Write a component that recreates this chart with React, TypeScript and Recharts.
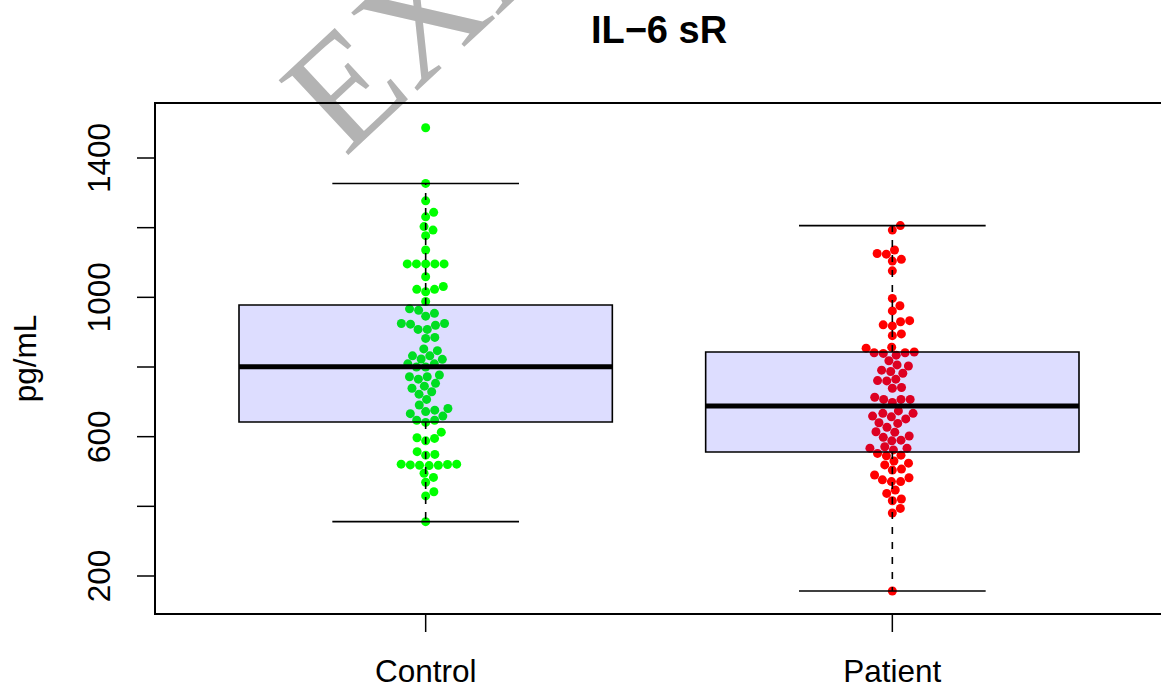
import { ComposedChart, XAxis, YAxis, Scatter, ReferenceArea, ReferenceLine } from 'recharts';

// ============================================================================
// Data
// ============================================================================

const groups = ['Control', 'Patient'];

const controlValues = [
  1487, 1327, 1277, 1244, 1231, 1203, 1193, 1177, 1136,
  1096, 1096, 1096, 1096, 1096,
  1059, 1031, 1023, 1023, 1016,
  988, 967, 963, 954, 946,
  925, 925, 923, 920, 908, 908,
  885, 882, 852, 847, 832, 832, 823, 822,
  809, 809, 800, 800,
  777, 772, 772, 765, 753, 745, 739, 729, 722,
  707, 691, 681, 676, 672, 666, 659, 647, 647, 641,
  613, 597, 595, 588, 557, 549, 547,
  521, 521, 520, 519, 518, 518, 517,
  495, 483, 469, 442, 430, 356,
];

const patientValues = [
  1206, 1193, 1136, 1126, 1124, 1109, 1104, 1076,
  997, 976, 961, 933, 930, 921, 918, 895, 890,
  857, 854, 843, 841, 841, 839, 834,
  818, 806, 803, 791, 787, 782, 765, 761, 760, 741, 739,
  713, 707, 707, 707, 698,
  674, 667, 667, 659, 657, 651, 640, 638, 627,
  614, 613, 602, 598, 590, 588, 571, 567, 567, 562,
  552, 547, 545, 530, 524, 519, 507, 504,
  490, 482, 476, 471, 471, 447, 437, 421, 416, 394, 381, 157,
];

// box statistics per group
const boxQ1 = [642, 556];
const boxMedian = [801, 688];
const boxQ3 = [978, 843];
const whiskerLow = [356, 157];
const whiskerHigh = [1327, 1206];

const yTicks = [200, 400, 600, 800, 1000, 1200, 1400];
const yTickLabels = [200, 600, 1000, 1400];

// ============================================================================
// Layout
// ============================================================================

const CHART_W = 1163;
const CHART_H = 692;
const PLOT_LEFT = 155;
const PLOT_TOP = 103;
const X_AXIS_H = 78;
const X_DOMAIN: [number, number] = [0.42, 2.58];
const Y_DOMAIN: [number, number] = [90.9, 1557.9];

const PLOT_W = CHART_W - PLOT_LEFT;
const PLOT_H = CHART_H - PLOT_TOP - X_AXIS_H;
const PX_PER_X = PLOT_W / (X_DOMAIN[1] - X_DOMAIN[0]);
const PX_PER_Y = PLOT_H / (Y_DOMAIN[1] - Y_DOMAIN[0]);

const DOT_R = 4.5;
const DOT_GAP = 9.2; // beeswarm spacing in px

const FONT = 'Liberation Sans, Arial, Helvetica, sans-serif';
const FONT_SIZE = 31.5;

// beeswarm "swarm" layout, ascending priority
function swarmOffsets(values: number[]): number[] {
  const order = values.map((_, i) => i).sort((a, b) => values[a] - values[b]);
  const placed: { x: number; y: number }[] = [];
  const out = new Array(values.length).fill(0);
  for (const i of order) {
    const y = values[i] * PX_PER_Y;
    const near = placed.filter((p) => Math.abs(p.y - y) < DOT_GAP);
    const cands = [0];
    near.forEach((p) => {
      const dx = Math.sqrt(DOT_GAP * DOT_GAP - (p.y - y) ** 2);
      cands.push(p.x + dx, p.x - dx);
    });
    let best = Infinity;
    for (const c of cands) {
      const bad = near.some((p) => (p.x - c) ** 2 + (p.y - y) ** 2 < DOT_GAP * DOT_GAP * 0.999);
      if (!bad && Math.abs(c) < Math.abs(best)) best = c;
    }
    placed.push({ x: best, y });
    out[i] = best;
  }
  return out.map((px) => px / PX_PER_X);
}

const toPoints = (values: number[], center: number) => {
  const offs = swarmOffsets(values);
  return values.map((v, i) => ({ x: center + offs[i], y: v }));
};

const controlPoints = toPoints(controlValues, 1);
const patientPoints = toPoints(patientValues, 2);

// ============================================================================
// Ticks
// ============================================================================

const XTick = (props: any) => {
  const { x, payload } = props;
  return (
    <text x={x} y={682} textAnchor="middle" fontSize={FONT_SIZE} fontFamily={FONT} fill="#000">
      {groups[Math.round(payload.value) - 1]}
    </text>
  );
};

const YTick = (props: any) => {
  const { y, payload } = props;
  if (!yTickLabels.includes(payload.value)) return <g />;
  return (
    <text
      x={110}
      y={y}
      transform={`rotate(-90 110 ${y})`}
      textAnchor="middle"
      fontSize={FONT_SIZE}
      fontFamily={FONT}
      fill="#000"
    >
      {payload.value}
    </text>
  );
};

const dot = (color: string) => (props: any) => (
  <circle cx={props.cx} cy={props.cy} r={DOT_R} fill={color} />
);

// ============================================================================
// Component
// ============================================================================

export default function App() {
  return (
    <div style={{ position: 'absolute', left: 0, top: 0, width: 1161, height: 692, overflow: 'hidden', background: '#fff' }}>
      <svg width={1161} height={692} style={{ position: 'absolute', left: 0, top: 0 }}>
        {/* watermark */}
        <text
          x={345}
          y={158}
          transform="rotate(-43 345 158)"
          fontFamily="Liberation Serif, Times New Roman, serif"
          fontSize={156}
          fill="#b3b3b3"
        >
          EXAMPLE
        </text>
        <text x={659} y={43} textAnchor="middle" fontSize={38} fontWeight="bold" fontFamily={FONT}>
          IL−6 sR
        </text>
        <text
          x={36}
          y={358.5}
          transform="rotate(-90 36 358.5)"
          textAnchor="middle"
          fontSize={FONT_SIZE}
          fontFamily={FONT}
        >
          pg/mL
        </text>
      </svg>
      <div style={{ position: 'absolute', left: 0, top: 0 }}>
        <ComposedChart width={CHART_W} height={CHART_H} margin={{ top: PLOT_TOP, right: 0, bottom: 0, left: 0 }}>
          <XAxis
            type="number"
            dataKey="x"
            domain={X_DOMAIN}
            ticks={[1, 2]}
            interval={0}
            allowDataOverflow
            height={X_AXIS_H}
            axisLine={false}
            tickSize={18}
            tickLine={{ stroke: '#000', strokeWidth: 1.5 }}
            tick={XTick}
          />
          <YAxis
            type="number"
            dataKey="y"
            domain={Y_DOMAIN}
            ticks={yTicks}
            interval={0}
            allowDataOverflow
            width={PLOT_LEFT}
            axisLine={false}
            tickSize={18}
            tickLine={{ stroke: '#000', strokeWidth: 1.5 }}
            tick={YTick}
          />
          <Scatter data={controlPoints} fill="#00ff00" shape={dot('#00ff00')} isAnimationActive={false} />
          <Scatter data={patientPoints} fill="#ff0000" shape={dot('#ff0000')} isAnimationActive={false} />

          {groups.map((g, i) => (
            <ReferenceLine
              key={`wh-${g}`}
              segment={[{ x: i + 1, y: boxQ3[i] }, { x: i + 1, y: whiskerHigh[i] }]}
              stroke="#000"
              strokeWidth={1.6}
              strokeDasharray="7 8"
              ifOverflow="visible"
              zIndex={800}
            />
          ))}
          {groups.map((g, i) => (
            <ReferenceLine
              key={`wl-${g}`}
              segment={[{ x: i + 1, y: boxQ1[i] }, { x: i + 1, y: whiskerLow[i] }]}
              stroke="#000"
              strokeWidth={1.6}
              strokeDasharray="7 8"
              ifOverflow="visible"
              zIndex={800}
            />
          ))}
          {groups.map((g, i) => (
            <ReferenceLine
              key={`ch-${g}`}
              segment={[{ x: i + 0.8, y: whiskerHigh[i] }, { x: i + 1.2, y: whiskerHigh[i] }]}
              stroke="#000"
              strokeWidth={1.6}
              ifOverflow="visible"
              zIndex={800}
            />
          ))}
          {groups.map((g, i) => (
            <ReferenceLine
              key={`cl-${g}`}
              segment={[{ x: i + 0.8, y: whiskerLow[i] }, { x: i + 1.2, y: whiskerLow[i] }]}
              stroke="#000"
              strokeWidth={1.6}
              ifOverflow="visible"
              zIndex={800}
            />
          ))}
          {groups.map((g, i) => (
            <ReferenceArea
              key={`box-${g}`}
              x1={i + 0.6}
              x2={i + 1.4}
              y1={boxQ1[i]}
              y2={boxQ3[i]}
              fill="#0000ff"
              fillOpacity={0.1333}
              stroke="#000"
              strokeWidth={1.6}
              ifOverflow="visible"
              zIndex={850}
            />
          ))}
          {groups.map((g, i) => (
            <ReferenceLine
              key={`md-${g}`}
              segment={[{ x: i + 0.6, y: boxMedian[i] }, { x: i + 1.4, y: boxMedian[i] }]}
              stroke="#000"
              strokeWidth={5}
              ifOverflow="visible"
              zIndex={900}
            />
          ))}
          <ReferenceArea
            x1={X_DOMAIN[0]}
            x2={X_DOMAIN[1]}
            y1={Y_DOMAIN[0]}
            y2={Y_DOMAIN[1]}
            fill="none"
            stroke="#000"
            strokeWidth={2}
            ifOverflow="visible"
            zIndex={900}
          />
        </ComposedChart>
      </div>
    </div>
  );
}
